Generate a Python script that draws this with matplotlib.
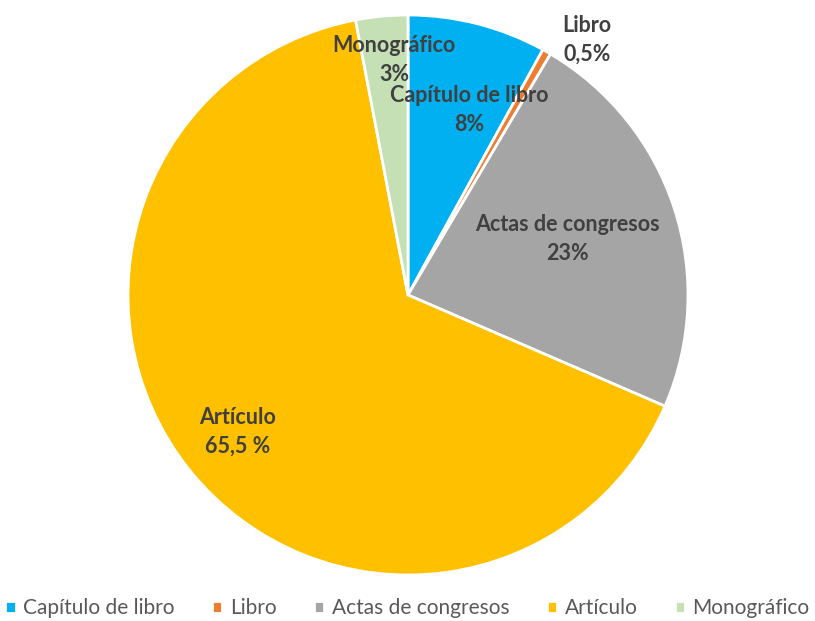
import matplotlib.pyplot as plt
import numpy as np

# Publication types and their share of the total (%)
categories = ["Capítulo de libro", "Libro", "Actas de congresos", "Artículo", "Monográfico"]
shares = [8, 0.5, 23, 65.5, 3]
value_labels = ["8%", "0,5%", "23%", "65,5 %", "3%"]
colors = ["#00B0F0", "#ED7D31", "#A5A5A5", "#FFC000", "#C5E0B4"]

# Label anchor points, in pie-radius units
label_pos = [(0.22, 0.66), (0.64, 0.91), (0.57, 0.20), (-0.61, -0.49), (-0.05, 0.84)]

plt.rcParams["font.family"] = ["Lato", "DejaVu Sans"]

fig = plt.figure(figsize=(8.15, 6.21), dpi=100)
ax = fig.add_axes([128 / 815, 46 / 621, 560 / 815, 560 / 621])

wedges, _ = ax.pie(shares, colors=colors, startangle=90, counterclock=False,
                   wedgeprops=dict(edgecolor="white", linewidth=2))
ax.set_xlim(-1, 1)
ax.set_ylim(-1, 1)
ax.set_aspect("equal")

for name, lab, (x, y) in zip(categories, value_labels, label_pos):
    ax.text(x, y, name + "\n" + lab, ha="center", va="center", fontsize=15.5,
            fontweight="bold", color="#404040", linespacing=1.45)

fig.legend(wedges, categories, loc="center", bbox_to_anchor=(0.5, 1 - 608 / 621),
           ncol=5, frameon=False, fontsize=15, handlelength=0.5, handleheight=0.5,
           handletextpad=0.35, columnspacing=1.8, labelcolor="#595959",
           borderpad=0.2)

fig.savefig("out.png", dpi=100)
